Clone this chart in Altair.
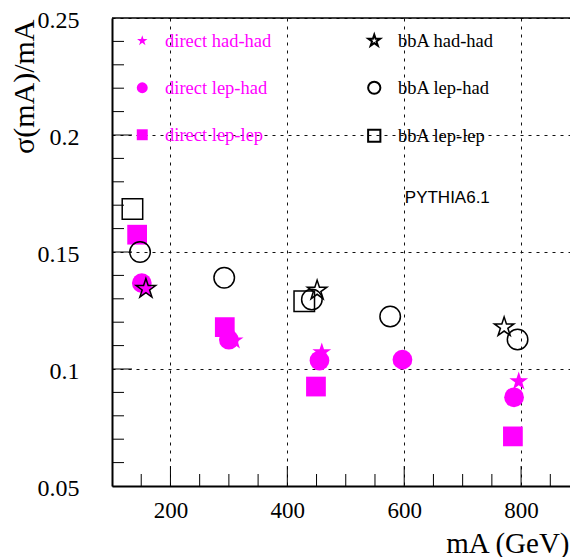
import altair as alt
import pandas as pd

# ---------------- data ----------------
direct_hadhad_mA = [158, 309, 459, 796]
direct_hadhad_sig = [0.1340, 0.1122, 0.1071, 0.0947]

direct_lephad_mA = [151, 300, 455, 597, 788]
direct_lephad_sig = [0.1367, 0.1125, 0.1036, 0.1040, 0.0879]

direct_leplep_mA = [143, 293, 449, 786]
direct_leplep_sig = [0.1574, 0.1179, 0.0925, 0.0712]

bbA_hadhad_mA = [158, 451, 771]
bbA_hadhad_sig = [0.1343, 0.1336, 0.1179]

bbA_lephad_mA = [148, 292, 442, 576, 794]
bbA_lephad_sig = [0.1500, 0.1390, 0.1297, 0.1224, 0.1126]

bbA_leplep_mA = [135, 429]
bbA_leplep_sig = [0.1684, 0.1290]

direct_order = ["direct had-had", "direct lep-had", "direct lep-lep"]
bbA_order = ["bbA had-had", "bbA lep-had", "bbA lep-lep"]

x_major_ticks = [200, 400, 600, 800]
x_minor_ticks = [150, 250, 300, 350, 450, 500, 550, 650, 700, 750, 850]
y_label_values = [0.05, 0.1, 0.15, 0.2, 0.25]
y_major_ticks = [0.1, 0.15, 0.2]
y_minor_ticks = [0.06, 0.07, 0.08, 0.09, 0.11, 0.12, 0.13, 0.14,
                 0.16, 0.17, 0.18, 0.19, 0.21, 0.22, 0.23, 0.24]

note_text = ["PYTHIA6.1"]
note_mA = [601]
note_sig = [0.173]

# ---------------- build tables ----------------
def table(parts):
    rows = []
    for name, xs, ys in parts:
        for x, y in zip(xs, ys):
            rows.append({"mA": x, "sigma": y, "series": name})
    return pd.DataFrame(rows)

direct_df = table([
    ("direct lep-lep", direct_leplep_mA, direct_leplep_sig),
    ("direct lep-had", direct_lephad_mA, direct_lephad_sig),
    ("direct had-had", direct_hadhad_mA, direct_hadhad_sig),
])
bbA_df = table([
    ("bbA lep-had", bbA_lephad_mA, bbA_lephad_sig),
    ("bbA had-had", bbA_hadhad_mA, bbA_hadhad_sig),
    ("bbA lep-lep", bbA_leplep_mA, bbA_leplep_sig),
])

STAR = ("M0,-1L0.2245,-0.309L0.951,-0.309L0.363,0.118L0.588,0.809L0,0.382"
        "L-0.588,0.809L-0.363,0.118L-0.951,-0.309L-0.2245,-0.309Z")
MAG = "#ff00ff"

W, H = 458, 468
SERIF = "Liberation Serif"

xscale = alt.Scale(domain=[100, 883.7], nice=False, zero=False)
yscale = alt.Scale(domain=[0.05, 0.25], nice=False, zero=False)

def legend(x, color, symsize, offset):
    return alt.Legend(
        title=None, orient="none", legendX=x, legendY=13.5,
        symbolSize=symsize, symbolStrokeWidth=2,
        labelFont=SERIF, labelFontSize=18.5, labelOffset=offset, labelColor=color,
        rowPadding=27,
    )

x_axis = alt.Axis(
    values=x_major_ticks, ticks=False,
    domainColor="black", domainWidth=2,
    grid=True, gridColor="#111", gridDash=[3, 5], gridWidth=1,
    labelFont=SERIF, labelFontSize=23, labelColor="black", labelPadding=13,
    title="mA (GeV)", titleFont=SERIF, titleFontSize=29, titleFontWeight="normal",
    titleColor="black", titleAlign="right", titleBaseline="alphabetic",
    titleX=457, titleY=66,
)
y_axis = alt.Axis(
    values=y_label_values, format="~g", ticks=False,
    domainColor="black", domainWidth=2,
    grid=True, gridColor="#111", gridDash=[3, 5], gridWidth=1,
    labelFont=SERIF, labelFontSize=24, labelColor="black", labelPadding=33,
    labelOffset=2,
    title="σ(mA)/mA", titleFont=SERIF, titleFontSize=30, titleFontWeight="normal",
    titleColor="black", titleAngle=270, titleAlign="right", titleBaseline="alphabetic",
    titleX=-79, titleY=1,
)

direct_pts = alt.Chart(direct_df).mark_point(filled=True, color=MAG, opacity=1, size=390).encode(
    x=alt.X("mA:Q", scale=xscale, axis=x_axis),
    y=alt.Y("sigma:Q", scale=yscale, axis=y_axis),
    shape=alt.Shape("series:N", scale=alt.Scale(domain=direct_order,
                    range=[STAR, "circle", "square"]), legend=legend(21, MAG, 120, 13.5)),
)

bbA_pts = alt.Chart(bbA_df).mark_point(filled=False, color="black", strokeWidth=1.5,
                                       opacity=1, size=420).encode(
    x=alt.X("mA:Q"),
    y=alt.Y("sigma:Q"),
    shape=alt.Shape("series:N", scale=alt.Scale(domain=bbA_order,
                    range=[STAR, "circle", "square"]), legend=legend(253, "black", 150, 14.5)),
)

ymin = alt.Chart(pd.DataFrame({"sigma": y_minor_ticks})).mark_rule(color="black", strokeWidth=1).encode(
    y=alt.Y("sigma:Q"), x=alt.value(0), x2=alt.value(12))
ymaj = alt.Chart(pd.DataFrame({"sigma": y_major_ticks})).mark_rule(color="black", strokeWidth=1).encode(
    y=alt.Y("sigma:Q"), x=alt.value(0), x2=alt.value(20))
xmin = alt.Chart(pd.DataFrame({"mA": x_minor_ticks})).mark_rule(color="black", strokeWidth=1).encode(
    x=alt.X("mA:Q"), y=alt.value(H), y2=alt.value(H - 12))
xmaj = alt.Chart(pd.DataFrame({"mA": x_major_ticks})).mark_rule(color="black", strokeWidth=1).encode(
    x=alt.X("mA:Q"), y=alt.value(H), y2=alt.value(H - 20))
top = alt.Chart(pd.DataFrame({"mA": [100]})).mark_rule(color="black", strokeWidth=1.5).encode(
    x=alt.value(0), x2=alt.value(W), y=alt.value(0))

note = alt.Chart(pd.DataFrame({"mA": note_mA, "sigma": note_sig, "t": note_text})).mark_text(
    align="left", baseline="middle", font="Liberation Sans", fontSize=17, color="black"
).encode(x=alt.X("mA:Q"), y=alt.Y("sigma:Q"), text="t:N")

chart = alt.layer(direct_pts, top, ymin, ymaj, xmin, xmaj, bbA_pts, note).resolve_scale(
    shape="independent"
).properties(
    width=W, height=H,
    autosize=alt.AutoSizeParams(type="none"),
    padding={"left": 104, "top": 10, "right": 0, "bottom": 71},
).configure_view(strokeWidth=0)

chart.save("out.html", embed_options={"renderer": "svg", "actions": False})
